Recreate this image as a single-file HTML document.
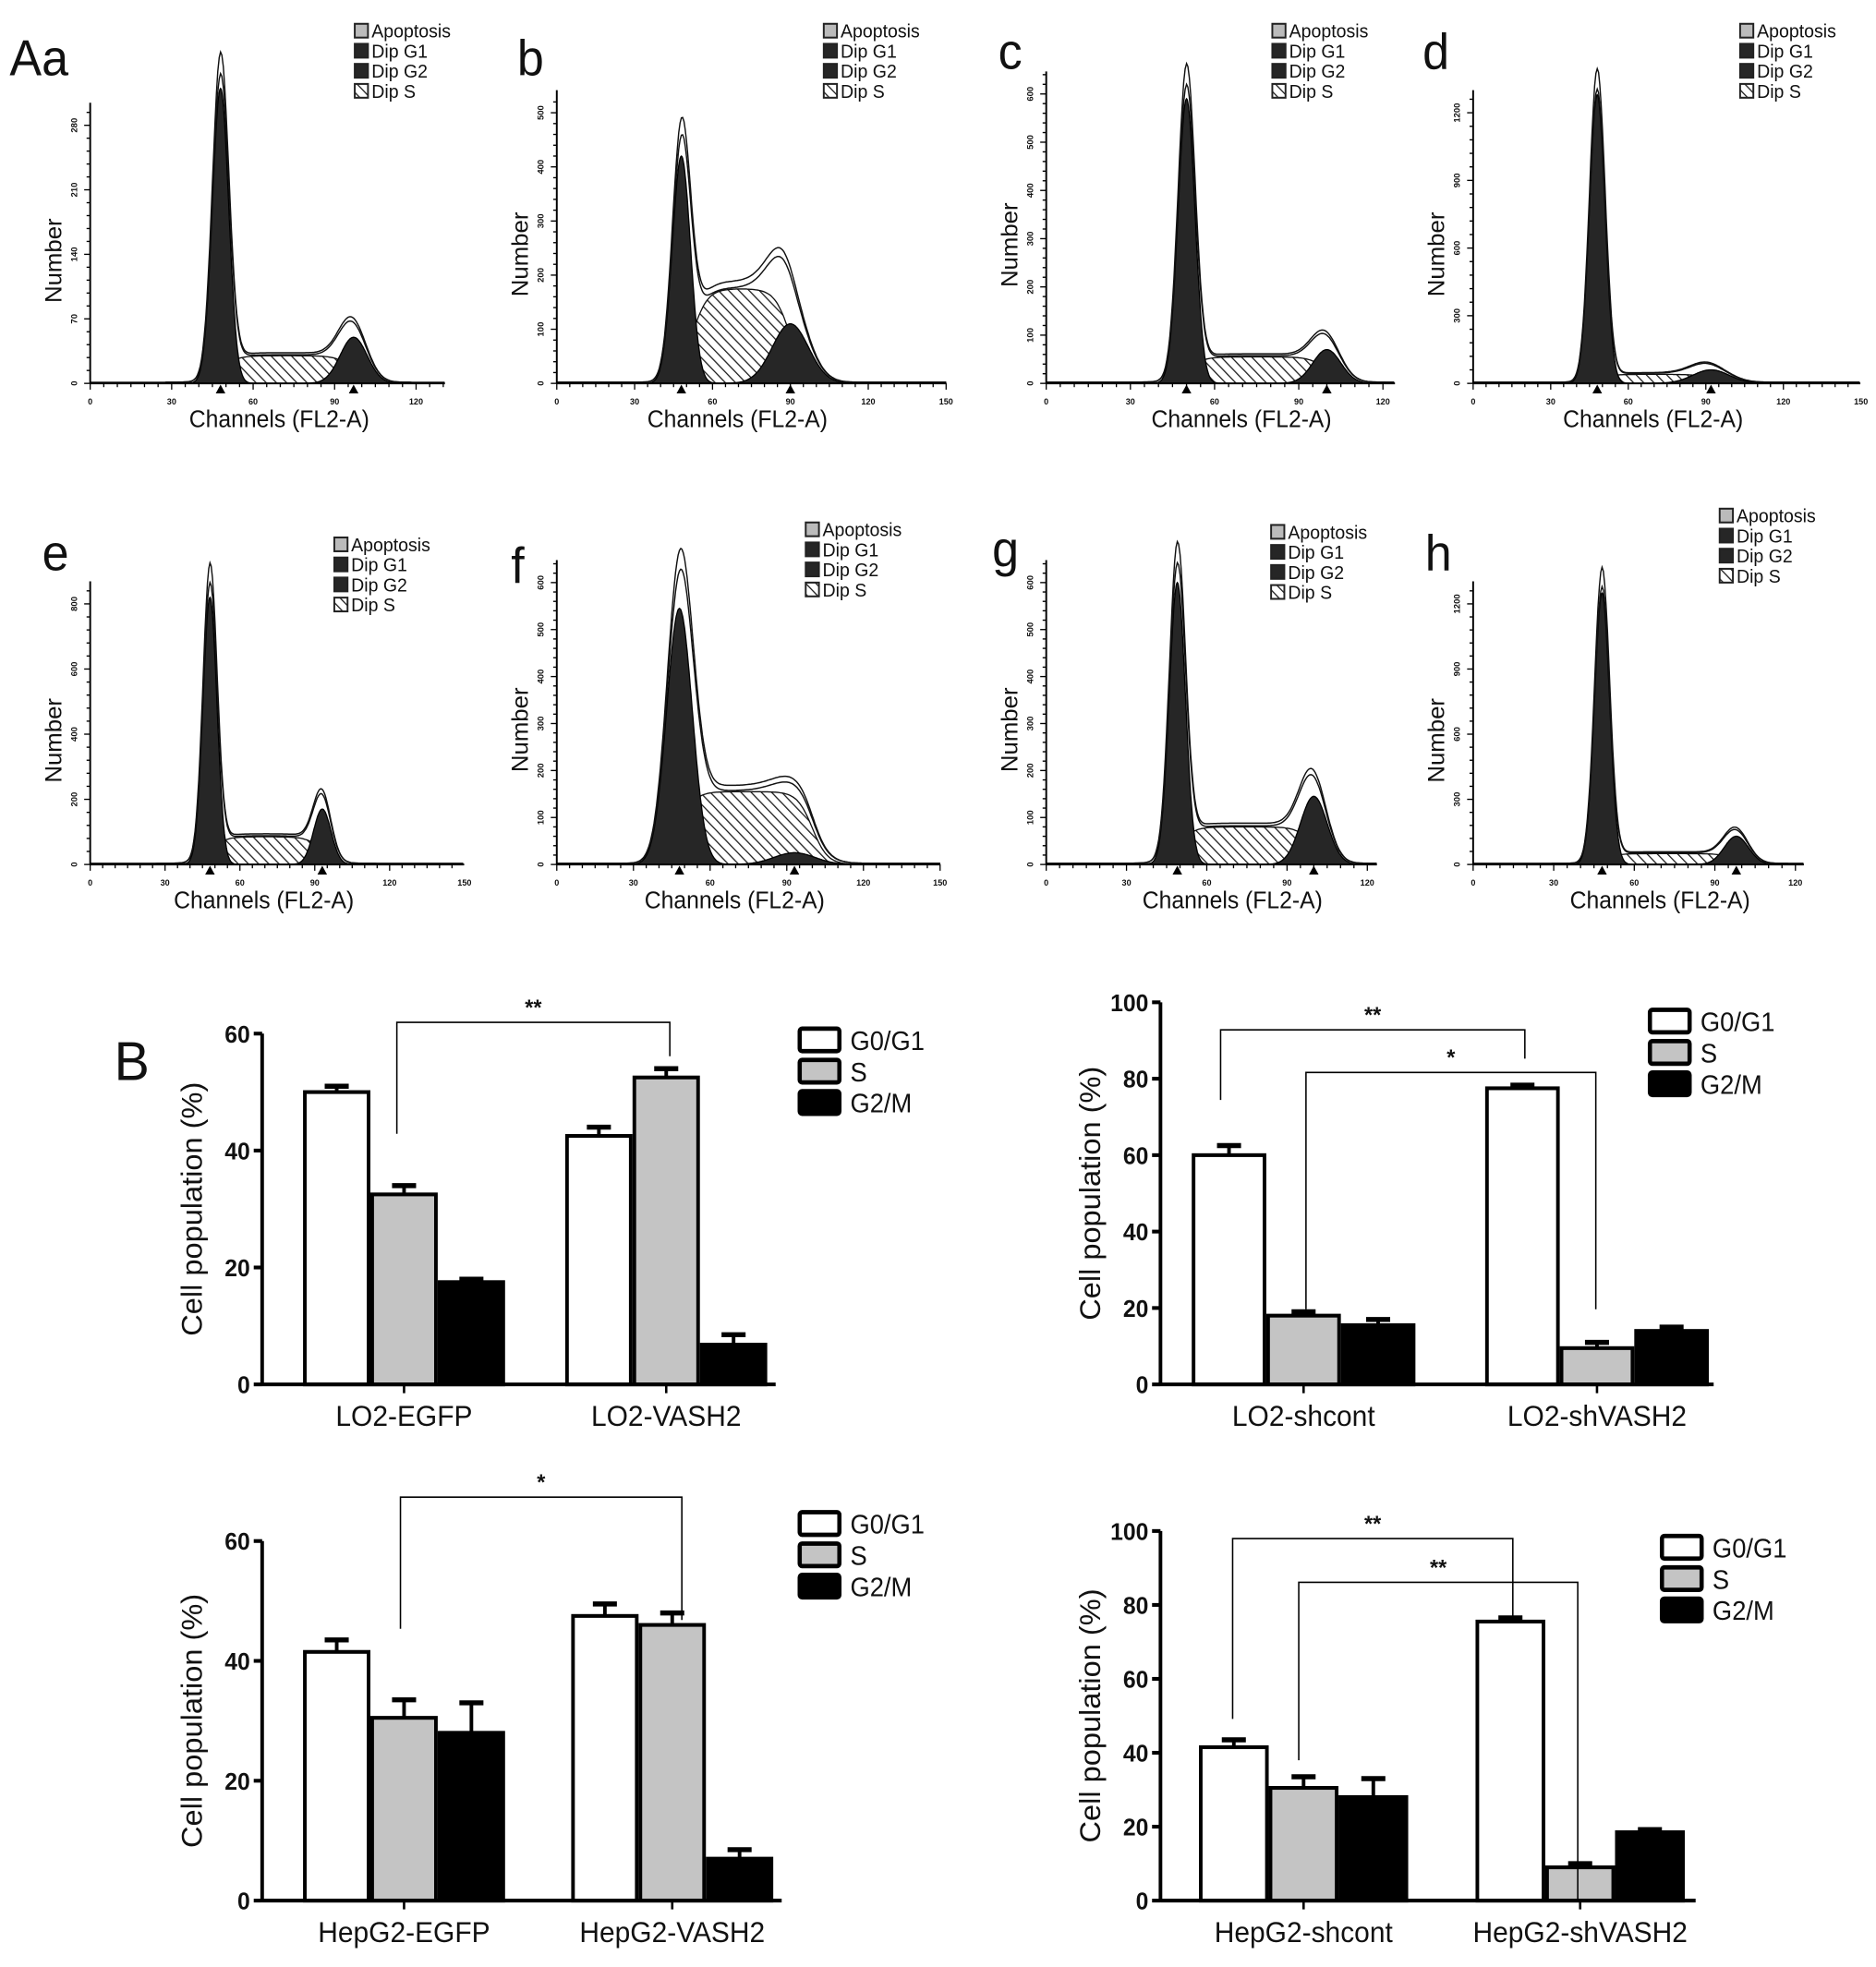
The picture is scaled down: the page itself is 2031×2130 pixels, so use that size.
<!DOCTYPE html>
<html><head><meta charset="utf-8"><style>
html,body{margin:0;padding:0;background:#fff}
svg{display:block}
text{font-family:"Liberation Sans",Arial,sans-serif;fill:#111}
</style></head><body>
<svg id="fig" width="2031" height="2130" viewBox="0 0 1560 1570" preserveAspectRatio="none" xmlns="http://www.w3.org/2000/svg">
<defs>
<pattern id="hatch" patternUnits="userSpaceOnUse" width="6" height="6" patternTransform="rotate(-45)">
<rect width="6" height="6" fill="#fff"/><line x1="0" y1="0" x2="0" y2="6" stroke="#222" stroke-width="2"/>
</pattern>
</defs>
<g id="root"></g>
</svg>
<script>
// ---------- Histogram data (components: [mean channel, height, sigma]) ----------
const histLetters = ["Aa","b","c","d","e","f","g","h"];
const histG1 = [[48,320,3],[48,420,3.5],[50,590,3],[48,1280,3],[48,820,2.8],[48,545,5],[49,600,3],[48,1250,2.8]];
const histG2 = [[97,50,5],[90,110,7],[100,70,5],[92,60,7],[93,170,3.5],[93,25,8],[100,145,5],[98,130,4.5]];
const histS  = [[48,97,30],[52,90,175],[50,100,55],[48,92,40],[48,93,85],[48,100,155],[49,100,80],[48,98,50]];
const histYTicks = [[0,70,140,210,280],[0,100,200,300,400,500],[0,100,200,300,400,500,600],[0,300,600,900,1200],
                    [0,200,400,600,800],[0,100,200,300,400,500,600],[0,100,200,300,400,500,600],[0,300,600,900,1200]];
const histXTicks = [[0,30,60,90,120],[0,30,60,90,120,150],[0,30,60,90,120],[0,30,60,90,120,150],
                    [0,30,60,90,120,150],[0,30,60,90,120,150],[0,30,60,90,120],[0,30,60,90,120]];
const legendNames = ["Apoptosis","Dip G1","Dip G2","Dip S"];

// ---------- Bar chart data ----------
const barSeries = ["G0/G1","S","G2/M"];
const bar1Cats = ["LO2-EGFP","LO2-VASH2"];
const bar1Vals = [[50,32.5,17.5],[42.5,52.5,6.8]];
const bar1Errs = [[1,1.5,0.5],[1.5,1.5,1.7]];
const bar2Cats = ["LO2-shcont","LO2-shVASH2"];
const bar2Vals = [[60,18,15.5],[77.5,9.5,14]];
const bar2Errs = [[2.5,1,1.5],[0.8,1.5,1]];
const bar3Cats = ["HepG2-EGFP","HepG2-VASH2"];
const bar3Vals = [[41.5,30.5,28],[47.5,46,7]];
const bar3Errs = [[2,3,5],[2,2,1.5]];
const bar4Cats = ["HepG2-shcont","HepG2-shVASH2"];
const bar4Vals = [[41.5,30.5,28],[75.5,9,18.5]];
const bar4Errs = [[2,3,5],[1,1,0.7]];

const NS="http://www.w3.org/2000/svg";
const root=document.getElementById('root');
function el(tag,attrs,parent,txt){const e=document.createElementNS(NS,tag);for(const k in attrs)e.setAttribute(k,attrs[k]);if(txt!==undefined)e.textContent=txt;(parent||root).appendChild(e);return e;}

const histLayout=[
 {x0:75,y0:306,xEnd:370,x120:346,yTop:100,lx:8,ly:60,legx:295,legy:18},
 {x0:463,y0:306,xEnd:787,x120:722,yTop:90,lx:430,ly:60,legx:685,legy:18},
 {x0:870,y0:306,xEnd:1160,x120:1150,yTop:75,lx:830,ly:55,legx:1058,legy:18},
 {x0:1225,y0:306,xEnd:1547,x120:1483,yTop:90,lx:1183,ly:55,legx:1447,legy:18},
 {x0:75,y0:690,xEnd:386,x120:324,yTop:482,lx:35,ly:455,legx:278,legy:428},
 {x0:463,y0:690,xEnd:782,x120:718,yTop:465,lx:425,ly:465,legx:670,legy:416},
 {x0:870,y0:690,xEnd:1145,x120:1137,yTop:465,lx:825,ly:452,legx:1057,legy:418},
 {x0:1225,y0:690,xEnd:1500,x120:1493,yTop:482,lx:1185,ly:455,legx:1430,legy:405}
];
function gauss(c,p){return p[1]*Math.exp(-Math.pow((c-p[0])/p[2],2)/2);}
function sPart(c,s){const w=3;return s[2]/(1+Math.exp(-(c-s[0])/w))/(1+Math.exp(-(s[1]-c)/w));}

histLayout.forEach((L,i)=>{
 const g=el('g',{});
 
 
 const yt=histYTicks[i], xt=histXTicks[i];
 const ymax=yt[yt.length-1];
 const sx=c=>L.x0+c*(L.x120-L.x0)/120;
 const sy=v=>L.y0-v*(L.y0-L.yTop)/ymax;
 const maxC=(L.xEnd-L.x0)/((L.x120-L.x0)/120);
 const s=histS[i],g1=histG1[i],g2=histG2[i];
 let d='M'+sx(s[0]-15)+','+L.y0;
 for(let c=s[0]-15;c<=s[1]+15;c+=0.5)d+=' L'+sx(c).toFixed(1)+','+sy(sPart(c,s)).toFixed(1);
 d+=' L'+sx(s[1]+15)+','+L.y0+'Z';
 const sp=el('path',{d:d,fill:'url(#hatch)',stroke:'#111','stroke-width':1},g);
 
 [g2,g1].forEach((p,k)=>{
  let d2='M'+sx(p[0]-4*p[2]).toFixed(1)+','+L.y0;
  for(let c=p[0]-4*p[2];c<=p[0]+4*p[2];c+=0.25)d2+=' L'+sx(c).toFixed(1)+','+sy(gauss(c,p)).toFixed(1);
  d2+=' L'+sx(p[0]+4*p[2]).toFixed(1)+','+L.y0+'Z';
  const pp=el('path',{d:d2,fill:'#262626',stroke:'#000','stroke-width':1},g);
  
 });
 [1,1.07].forEach((f,k)=>{
  let d3='';
  for(let c=0;c<=maxC;c+=0.5){const v=(gauss(c,g1)+gauss(c,g2)+sPart(c,s))*f+ymax*0.004;d3+=(c?' L':'M')+sx(c).toFixed(1)+','+sy(v).toFixed(1);}
  const lp=el('path',{d:d3,fill:'none',stroke:'#111','stroke-width':1.1},g);
  
 });
 el('line',{x1:L.x0,y1:L.y0,x2:L.xEnd,y2:L.y0,stroke:'#000','stroke-width':1.5},g);
 el('line',{x1:L.x0,y1:L.y0,x2:L.x0,y2:L.yTop-18,stroke:'#000','stroke-width':1.5},g);
 for(let c=0;c<=maxC;c+=5){el('line',{x1:sx(c),y1:L.y0,x2:sx(c),y2:L.y0+(c%30?3:5),stroke:'#000','stroke-width':1},g);}
 xt.forEach(v=>{const t=el('text',{x:sx(v),y:L.y0+17,'font-size':7,'font-weight':'bold','text-anchor':'middle'},g,String(v));});
 const step=yt[1]/5;
 for(let v=0;v<=ymax*1.07;v+=step){el('line',{x1:L.x0,y1:sy(v),x2:L.x0-(Math.abs(v%yt[1])<1e-6?5:3),y2:sy(v),stroke:'#000','stroke-width':1},g);}
 yt.forEach(v=>{const x=L.x0-11,y=sy(v);const t=el('text',{x:x,y:y,'font-size':7,'font-weight':'bold','text-anchor':'middle',transform:'rotate(-90 '+x+' '+y+')'},g,String(v));});
 [g1[0],g2[0]].forEach(c=>{el('path',{d:'M'+(sx(c)-4)+','+(L.y0+8)+' L'+(sx(c)+4)+','+(L.y0+8)+' L'+sx(c)+','+(L.y0+1)+'Z',fill:'#000'},g);});
 const yl=el('text',{x:L.x0-24,y:(L.y0+L.yTop)/2+5,'font-size':19,'text-anchor':'middle',transform:'rotate(-90 '+(L.x0-24)+' '+((L.y0+L.yTop)/2+5)+')'},g,'Number');
 
 const xl=el('text',{x:L.x0+(L.x120-L.x0)*0.58,y:L.y0+35,'font-size':19,'text-anchor':'middle'},g,'Channels (FL2-A)');
 
 const lt=el('text',{x:L.lx,y:L.ly,'font-size':40},g,histLetters[i]);
 
 const fills=['#bbb','#262626','#262626','url(#hatch)'];
 legendNames.forEach((n,k)=>{
  const r=el('rect',{x:L.legx,y:L.legy+k*16+1,width:11,height:11,fill:fills[k],stroke:'#222','stroke-width':1.5},g);
  
  const t=el('text',{x:L.legx+14,y:L.legy+k*16+12,'font-size':15},g,n);
  
 });
});

function barChart(cfg,cats,vals,errs){
 const g=el('g',{});
 
 
 const sy=v=>cfg.y0-v*(cfg.y0-cfg.yTop)/cfg.ymax;
 const fills=['#fff','#c4c4c4','#000'];
 cats.forEach((c,ci)=>{
  vals[ci].forEach((v,si)=>{
   const x=cfg.gx[ci]+si*cfg.bw;
   const e=errs[ci][si];
   el('line',{x1:x+cfg.bw/2,y1:sy(v),x2:x+cfg.bw/2,y2:sy(v+e),stroke:'#000','stroke-width':3},g);
   el('line',{x1:x+cfg.bw/2-10,y1:sy(v+e),x2:x+cfg.bw/2+10,y2:sy(v+e),stroke:'#000','stroke-width':4},g);
   const r=el('rect',{x:x+1.5,y:sy(v),width:cfg.bw-3,height:cfg.y0-sy(v),fill:fills[si],stroke:'#000','stroke-width':3},g);
   
   
  });
  const cx=cfg.gx[ci]+cfg.bw*1.5;
  el('line',{x1:cx,y1:cfg.y0,x2:cx,y2:cfg.y0+7,stroke:'#000','stroke-width':2},g);
  const t=el('text',{x:cx,y:cfg.y0+33,'font-size':23,'text-anchor':'middle'},g,c);
  
 });
 el('line',{x1:cfg.x0,y1:cfg.y0,x2:cfg.xEnd,y2:cfg.y0,stroke:'#000','stroke-width':3},g);
 el('line',{x1:cfg.x0,y1:cfg.y0+1,x2:cfg.x0,y2:cfg.yTop,stroke:'#000','stroke-width':3},g);
 cfg.ticks.forEach(v=>{
  el('line',{x1:cfg.x0,y1:sy(v),x2:cfg.x0-7,y2:sy(v),stroke:'#000','stroke-width':3},g);
  const t=el('text',{x:cfg.x0-10,y:sy(v)+7,'font-size':19,'font-weight':'bold','text-anchor':'end'},g,String(v));
  
 });
 const yx=cfg.x0-50, ym=(cfg.y0+cfg.yTop)/2;
 const yl=el('text',{x:yx,y:ym,'font-size':24,'text-anchor':'middle',transform:'rotate(-90 '+yx+' '+ym+')'},g,'Cell population (%)');
 
 barSeries.forEach((s,k)=>{
  const r=el('rect',{x:cfg.legx,y:cfg.legy+k*25,width:33,height:18,fill:fills[k],stroke:'#000','stroke-width':3.5,rx:2},g);
  
  const t=el('text',{x:cfg.legx+42,y:cfg.legy+k*25+17,'font-size':21},g,s);
  
 });
 cfg.brackets.forEach(b=>{
  el('path',{d:'M'+b[0]+','+b[1]+' L'+b[0]+','+b[2]+' L'+b[3]+','+b[2]+' L'+b[3]+','+b[4],fill:'none',stroke:'#000','stroke-width':1.2},g);
  const t=el('text',{x:(b[0]+b[3])/2,y:b[2]-6,'font-size':18,'font-weight':'bold','text-anchor':'middle'},g,b[5]);
  
 });
 return g;
}
barChart({name:'bar-chart-lo2-overexpression',x0:218,y0:1105,yTop:825,ymax:60,xEnd:645,ticks:[0,20,40,60],gx:[252,470],bw:56,legx:665,legy:821,
 brackets:[[330,905,816,557,843,'**']]},bar1Cats,bar1Vals,bar1Errs);
barChart({name:'bar-chart-lo2-knockdown',x0:965,y0:1105,yTop:800,ymax:100,xEnd:1425,ticks:[0,20,40,60,80,100],gx:[991,1235],bw:62,legx:1372,legy:806,
 brackets:[[1015,878,822,1268,845,'**'],[1086,1045,856,1327,1045,'*']]},bar2Cats,bar2Vals,bar2Errs);
barChart({name:'bar-chart-hepg2-overexpression',x0:218,y0:1517,yTop:1230,ymax:60,xEnd:650,ticks:[0,20,40,60],gx:[252,475],bw:56,legx:665,legy:1207,
 brackets:[[333,1300,1195,567,1293,'*']]},bar3Cats,bar3Vals,bar3Errs);
barChart({name:'bar-chart-hepg2-knockdown',x0:965,y0:1517,yTop:1222,ymax:100,xEnd:1410,ticks:[0,20,40,60,80,100],gx:[997,1227],bw:58,legx:1382,legy:1226,
 brackets:[[1025,1372,1228,1258,1290,'**'],[1080,1405,1263,1312,1517,'**']]},bar4Cats,bar4Vals,bar4Errs);
const B=el('text',{x:95,y:862,'font-size':44},root,'B');


</script>
</body></html>
